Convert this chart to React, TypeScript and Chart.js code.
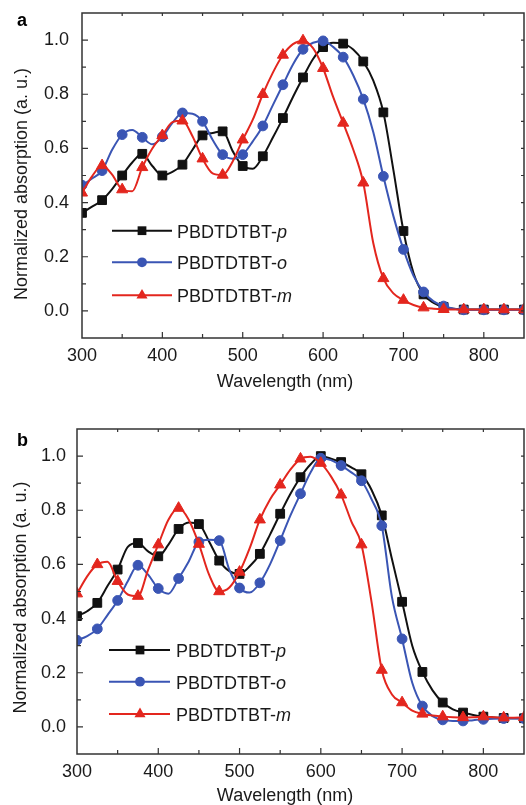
import React, { useEffect, useRef } from 'react';
import { Chart, registerables } from 'chart.js';

Chart.register(...registerables);

// Wavelength grid (nm) — markers are drawn on every other point (every 25 nm)
const wavelengths = [
  300, 312.5, 325, 337.5, 350, 362.5, 375, 387.5, 400, 412.5, 425, 437.5, 450, 462.5, 475,
  487.5, 500, 512.5, 525, 537.5, 550, 562.5, 575, 587.5, 600, 612.5, 625, 637.5, 650, 662.5,
  675, 687.5, 700, 712.5, 725, 737.5, 750, 762.5, 775, 787.5, 800, 812.5, 825, 837.5, 850,
];

// Panel a
const aP = [
  0.362, 0.385, 0.409, 0.45, 0.5, 0.548, 0.58, 0.535, 0.5, 0.513, 0.54, 0.595, 0.648, 0.657, 0.663,
  0.59, 0.535, 0.525, 0.571, 0.64, 0.712, 0.79, 0.862, 0.93, 0.974, 0.99, 0.987, 0.965, 0.921, 0.85,
  0.733, 0.52, 0.295, 0.14, 0.061, 0.03, 0.015, 0.008, 0.005, 0.005, 0.005, 0.005, 0.005, 0.005, 0.005,
];
const aO = [
  0.464, 0.489, 0.518, 0.595, 0.651, 0.668, 0.641, 0.615, 0.643, 0.694, 0.731, 0.728, 0.7, 0.632, 0.577,
  0.562, 0.577, 0.626, 0.683, 0.76, 0.835, 0.91, 0.966, 0.99, 0.997, 0.975, 0.937, 0.87, 0.782, 0.66,
  0.497, 0.35, 0.227, 0.13, 0.07, 0.035, 0.018, 0.008, 0.004, 0.004, 0.004, 0.004, 0.004, 0.004, 0.004,
];
const aM = [
  0.436, 0.497, 0.537, 0.503, 0.448, 0.442, 0.53, 0.6, 0.648, 0.697, 0.702, 0.645, 0.562, 0.508, 0.502,
  0.552, 0.632, 0.706, 0.8, 0.88, 0.945, 0.985, 0.998, 0.97, 0.896, 0.79, 0.694, 0.596, 0.473, 0.25,
  0.12, 0.065, 0.04, 0.022, 0.012, 0.008, 0.006, 0.005, 0.005, 0.005, 0.005, 0.005, 0.005, 0.005, 0.005,
];

// Panel b
const bP = [
  0.409, 0.427, 0.458, 0.52, 0.581, 0.665, 0.679, 0.648, 0.63, 0.673, 0.731, 0.755, 0.749, 0.685, 0.614,
  0.575, 0.565, 0.593, 0.639, 0.71, 0.787, 0.86, 0.922, 0.97, 1.0, 0.99, 0.978, 0.958, 0.933, 0.875,
  0.781, 0.62, 0.462, 0.3, 0.203, 0.135, 0.09, 0.065, 0.053, 0.044, 0.038, 0.035, 0.033, 0.032, 0.032,
];
const bO = [
  0.32, 0.335, 0.362, 0.413, 0.467, 0.538, 0.597, 0.562, 0.511, 0.492, 0.548, 0.611, 0.683, 0.691, 0.688,
  0.58, 0.513, 0.496, 0.532, 0.6, 0.688, 0.78, 0.861, 0.94, 0.992, 0.985, 0.965, 0.94, 0.909, 0.84,
  0.743, 0.48, 0.325, 0.163, 0.077, 0.04, 0.026, 0.022, 0.022, 0.025, 0.028, 0.03, 0.031, 0.031, 0.031,
];
const bM = [
  0.492, 0.556, 0.6, 0.61, 0.538, 0.489, 0.483, 0.58, 0.673, 0.765, 0.808, 0.765, 0.675, 0.562, 0.5,
  0.515, 0.572, 0.66, 0.765, 0.84, 0.894, 0.95, 0.99, 0.998, 0.974, 0.925, 0.857, 0.759, 0.673, 0.46,
  0.21, 0.12, 0.09, 0.06, 0.048, 0.042, 0.038, 0.036, 0.035, 0.036, 0.038, 0.036, 0.034, 0.034, 0.035,
];

const xTickLabels = ['300', '400', '500', '600', '700', '800'];
const yTickLabels = ['0.0', '0.2', '0.4', '0.6', '0.8', '1.0'];
const seriesBase = 'PBDTDTBT-';
const seriesSuffix = ['p', 'o', 'm'];
const xTitle = 'Wavelength (nm)';
const yTitle = 'Normalized absorption (a. u.)';

const W = 526;
const BLACK = '#111111';
const BLUE = '#3a55b4';
const RED = '#e3261e';
const TEXT = '#1a1a1a';
const AXIS = '#333333';
const FONT = '"Liberation Sans", Arial, Helvetica, sans-serif';

const STYLES = [
  { color: BLACK, shape: 'rect', r: 6.2, order: 3 },
  { color: BLUE, shape: 'circle', r: 4.9, order: 2 },
  { color: RED, shape: 'triangle', r: 6.4, order: 1 },
];

type Panel = {
  letter: string;
  height: number;
  series: number[][];
  area: { left: number; top: number; right: number; bottom: number };
  yTickPad: number;
  legend: { x0: number; x1: number; xm: number; xt: number; rows: number[] };
  yTitlePos: { x: number; y: number };
  xTitlePos: { x: number; y: number };
  letterPos: { x: number; y: number };
};

const panels: Panel[] = [
  {
    letter: 'a',
    height: 400,
    series: [aP, aO, aM],
    area: { left: 82, top: 13, right: 524, bottom: 338 },
    yTickPad: 13,
    legend: { x0: 112, x1: 172, xm: 142, xt: 177, rows: [230.7, 262.3, 295.3] },
    yTitlePos: { x: 27, y: 184 },
    xTitlePos: { x: 285, y: 387 },
    letterPos: { x: 17, y: 26 },
  },
  {
    letter: 'b',
    height: 405,
    series: [bP, bO, bM],
    area: { left: 77, top: 29, right: 524, bottom: 354 },
    yTickPad: 11,
    legend: { x0: 109, x1: 170, xm: 140, xt: 176, rows: [250, 281.7, 314] },
    yTitlePos: { x: 26, y: 197.5 },
    xTitlePos: { x: 285, y: 401 },
    letterPos: { x: 17, y: 46 },
  },
];

function drawShape(ctx: CanvasRenderingContext2D, shape: string, x: number, y: number, r: number, color: string) {
  ctx.save();
  ctx.fillStyle = color;
  ctx.beginPath();
  if (shape === 'rect') {
    const s = r * Math.SQRT1_2;
    ctx.rect(x - s, y - s, 2 * s, 2 * s);
  } else if (shape === 'circle') {
    ctx.arc(x, y, r, 0, Math.PI * 2);
  } else {
    ctx.moveTo(x, y - r);
    ctx.lineTo(x + 0.866 * r, y + r / 2);
    ctx.lineTo(x - 0.866 * r, y + r / 2);
    ctx.closePath();
  }
  ctx.fill();
  ctx.restore();
}

function makePlugin(p: Panel) {
  return {
    id: 'decor-' + p.letter,
    afterDatasetsDraw(chart: any) {
      const ctx: CanvasRenderingContext2D = chart.ctx;
      const { left, right, top, bottom } = chart.chartArea;
      const xs = chart.scales.x;
      const ys = chart.scales.y;
      ctx.save();
      ctx.strokeStyle = AXIS;
      ctx.lineWidth = 1.5;
      ctx.strokeRect(left, top, right - left, bottom - top);
      ctx.lineWidth = 1.2;
      ctx.beginPath();
      for (let v = 350; v < 850; v += 50) {
        const px = xs.getPixelForValue(v);
        const major = v % 100 === 0;
        ctx.moveTo(px, bottom);
        ctx.lineTo(px, bottom - (major ? 6 : 4));
        ctx.moveTo(px, top);
        ctx.lineTo(px, top + 3);
      }
      for (let k = 0; k <= 10; k++) {
        const py = ys.getPixelForValue(k / 10);
        const major = k % 2 === 0;
        ctx.moveTo(left, py);
        ctx.lineTo(left + (major ? 6 : 4), py);
        ctx.moveTo(right, py);
        ctx.lineTo(right - 3, py);
      }
      ctx.stroke();
      ctx.restore();
    },
    afterDraw(chart: any) {
      const ctx: CanvasRenderingContext2D = chart.ctx;
      ctx.save();
      // legend
      const L = p.legend;
      STYLES.forEach((st, i) => {
        const y = L.rows[i];
        ctx.strokeStyle = st.color;
        ctx.lineWidth = 2;
        ctx.beginPath();
        ctx.moveTo(L.x0, y);
        ctx.lineTo(L.x1, y);
        ctx.stroke();
        drawShape(ctx, st.shape, L.xm, y, st.r, st.color);
        ctx.fillStyle = TEXT;
        ctx.textAlign = 'left';
        ctx.textBaseline = 'alphabetic';
        ctx.font = `18px ${FONT}`;
        ctx.fillText(seriesBase, L.xt, y + 6.8);
        const w = ctx.measureText(seriesBase).width;
        ctx.font = `italic 18px ${FONT}`;
        ctx.fillText(seriesSuffix[i], L.xt + w, y + 6.8);
      });
      // axis titles
      ctx.fillStyle = TEXT;
      ctx.font = `18px ${FONT}`;
      ctx.textAlign = 'center';
      ctx.textBaseline = 'alphabetic';
      ctx.fillText(xTitle, p.xTitlePos.x, p.xTitlePos.y);
      ctx.save();
      ctx.translate(p.yTitlePos.x, p.yTitlePos.y);
      ctx.rotate(-Math.PI / 2);
      ctx.fillText(yTitle, 0, 0);
      ctx.restore();
      // panel letter
      ctx.font = `bold 18px ${FONT}`;
      ctx.textAlign = 'left';
      ctx.fillStyle = '#000';
      ctx.fillText(p.letter, p.letterPos.x, p.letterPos.y);
      ctx.restore();
    },
  };
}

function makeConfig(p: Panel): any {
  const datasets = p.series.map((vals, i) => {
    const st = STYLES[i];
    return {
      label: seriesBase + seriesSuffix[i],
      data: wavelengths.map((x, j) => ({ x, y: vals[j] })),
      borderColor: st.color,
      backgroundColor: st.color,
      borderWidth: 2,
      pointStyle: st.shape,
      pointRadius: (c: any) => (c.dataIndex % 2 === 0 ? st.r : 0),
      pointBorderWidth: 1,
      pointBackgroundColor: st.color,
      pointBorderColor: st.color,
      cubicInterpolationMode: 'monotone',
      fill: false,
      order: st.order,
    };
  });
  const tickFont = { family: FONT, size: 18 };
  return {
    type: 'line',
    data: { datasets },
    plugins: [makePlugin(p)],
    options: {
      responsive: false,
      animation: false,
      events: [],
      layout: {
        autoPadding: false,
        padding: { left: 0, top: p.area.top, right: W - p.area.right, bottom: 0 },
      },
      plugins: { legend: { display: false }, tooltip: { enabled: false }, title: { display: false } },
      scales: {
        x: {
          type: 'linear',
          min: 300,
          max: 850,
          grid: { display: false, drawTicks: false },
          border: { display: false },
          ticks: {
            stepSize: 50,
            autoSkip: false,
            maxRotation: 0,
            minRotation: 0,
            padding: 7,
            color: TEXT,
            font: tickFont,
            callback: (v: any) => {
              const s = String(Math.round(Number(v)));
              return xTickLabels.includes(s) ? s : '';
            },
          },
          afterFit: (s: any) => {
            s.height = p.height - p.area.bottom;
            s.paddingLeft = 0;
            s.paddingRight = 0;
          },
        },
        y: {
          type: 'linear',
          min: -0.1,
          max: 1.1,
          grid: { display: false, drawTicks: false },
          border: { display: false },
          ticks: {
            stepSize: 0.1,
            autoSkip: false,
            padding: p.yTickPad,
            color: TEXT,
            font: tickFont,
            callback: (v: any) => {
              const s = (Math.round(Number(v) * 10) / 10).toFixed(1);
              return yTickLabels.includes(s) ? s : '';
            },
          },
          afterFit: (s: any) => {
            s.width = p.area.left;
            s.paddingTop = 0;
            s.paddingBottom = 0;
          },
        },
      },
    },
  };
}

function PanelChart({ panel, top }: { panel: Panel; top: number }) {
  const ref = useRef<HTMLCanvasElement | null>(null);
  useEffect(() => {
    if (!ref.current) return;
    const chart = new Chart(ref.current, makeConfig(panel));
    return () => chart.destroy();
  }, [panel]);
  return (
    <canvas
      ref={ref}
      width={W}
      height={panel.height}
      style={{ position: 'absolute', left: 0, top, width: W, height: panel.height, display: 'block' }}
    />
  );
}

export default function App() {
  return (
    <div style={{ position: 'absolute', left: 0, top: 0, width: W, height: 805, background: '#fff', overflow: 'hidden' }}>
      <PanelChart panel={panels[0]} top={0} />
      <PanelChart panel={panels[1]} top={400} />
    </div>
  );
}
